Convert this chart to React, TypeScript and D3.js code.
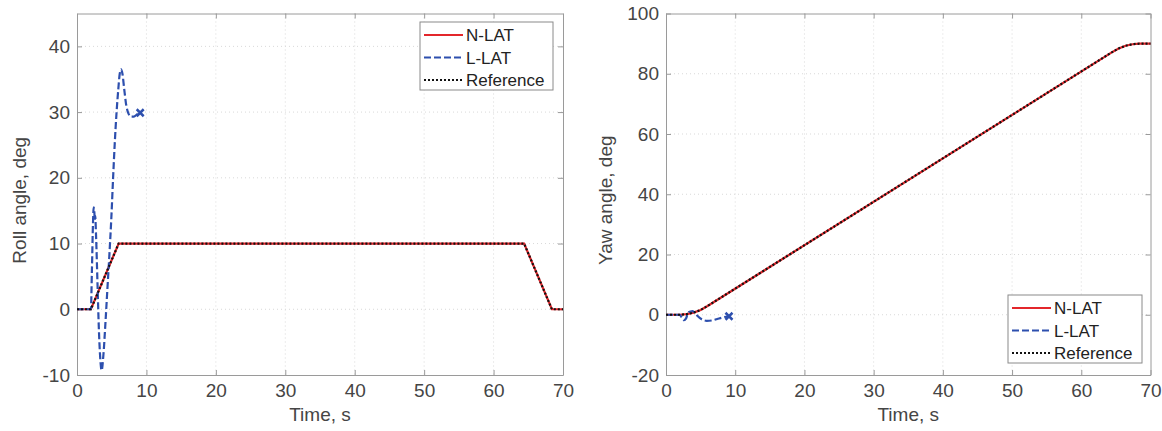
import * as d3 from 'd3'
import { useEffect, useRef } from 'react'

// roll angle, deg
const rollRefTime = [0, 2, 6, 64.4, 68.4, 70]
const rollRef = [0, 0, 10, 10, 0, 0]
const rollNlatTime = [0, 2, 6, 64.4, 68.4, 70]
const rollNlat = [0, 0, 10, 10, 0, 0]
const rollLlatTime = [0, 2.0, 2.15, 2.3, 2.4, 2.5, 2.55, 2.62, 2.75, 2.95, 3.15, 3.35, 3.55, 3.8, 4.1, 4.4, 4.65, 4.95, 5.2, 5.45, 5.7, 5.95, 6.15, 6.35, 6.55, 6.8, 7.1, 7.4, 7.8, 8.2, 8.6, 9.1]
const rollLlat = [0, 0, 6, 13, 15.5, 14.8, 13.5, 14.2, 11, 4, -3, -7.5, -9.3, -7, -2, 3.5, 8, 14, 20, 25.5, 30, 33.5, 35.8, 36.5, 35.8, 33.5, 31, 29.8, 29.3, 29.3, 29.6, 29.9]

// yaw angle, deg
const yawRefTime = [0, 2, 3, 4, 5, 6, 64.4, 65.4, 66.4, 67.4, 68.4, 70]
const yawRef = [0, 0, 0.2, 0.7, 1.6, 2.9, 87.1, 88.4, 89.3, 89.8, 90, 90]
const yawNlatTime = [0, 2, 3, 4, 5, 6, 64.4, 65.4, 66.4, 67.4, 68.4, 70]
const yawNlat = [0, 0, 0.2, 0.7, 1.6, 2.9, 87.1, 88.4, 89.3, 89.8, 90, 90]
const yawLlatTime = [0, 2.0, 2.3, 2.6, 2.9, 3.2, 3.55, 3.85, 4.2, 4.6, 5.15, 5.9, 6.6, 7.4, 8.2, 9.1]
const yawLlat = [0, 0, -1.0, -1.8, -1.2, 0.7, 1.1, 1.2, 0.6, -0.5, -1.5, -2.0, -1.9, -1.4, -0.9, -0.5]

const xTicks = [0, 10, 20, 30, 40, 50, 60, 70]
const rollTicks = [-10, 0, 10, 20, 30, 40]
const yawTicks = [-20, 0, 20, 40, 60, 80, 100]
const legendNames = ['N-LAT', 'L-LAT', 'Reference']

const FONT = '"Liberation Sans", Arial, Helvetica, sans-serif'
const RED = '#e3262b'
const BLUE = '#2d4fae'
const TEXT = '#454545'

type Pt = [number, number]
const zip = (t: number[], v: number[]): Pt[] => t.map((d, i) => [d, v[i]])

type PanelOpts = {
    left: number; right: number; top: number; bottom: number;
    yDomain: [number, number]; yTicks: number[]; yLabel: string; yLabelX: number;
    nlat: Pt[]; llat: Pt[]; ref: Pt[];
    legend: { x: number; y: number; w: number; h: number };
}

const drawPanel = (svg: d3.Selection<SVGSVGElement, unknown, null, undefined>, o: PanelOpts) => {
    const x = d3.scaleLinear().domain([0, 70]).range([o.left, o.right])
    const y = d3.scaleLinear().domain(o.yDomain).range([o.bottom, o.top])
    const g = svg.append('g')

    // grid
    g.selectAll('.gx').data(xTicks.slice(1, -1)).enter().append('line')
        .attr('x1', d => x(d)).attr('x2', d => x(d)).attr('y1', o.top).attr('y2', o.bottom)
        .attr('stroke', '#d9d9d9').attr('stroke-width', 1).attr('stroke-dasharray', '1,3')
    g.selectAll('.gy').data(o.yTicks.filter(d => d > o.yDomain[0] && d < o.yDomain[1])).enter().append('line')
        .attr('y1', d => y(d)).attr('y2', d => y(d)).attr('x1', o.left).attr('x2', o.right)
        .attr('stroke', '#d9d9d9').attr('stroke-width', 1).attr('stroke-dasharray', '1,3')

    // axes with inward ticks on all four sides
    const axisColor = '#9a9a9a'
    const tickSize = -5
    const fmt = (d: d3.NumberValue) => String(d)
    const styleAxis = (a: d3.Selection<SVGGElement, unknown, null, undefined>) => {
        a.select('.domain').attr('stroke', axisColor)
        a.selectAll('.tick line').attr('stroke', axisColor)
        a.selectAll('text').attr('fill', TEXT).attr('font-size', 19).attr('font-family', FONT)
    }
    const bottom = g.append('g').attr('transform', `translate(0,${o.bottom})`)
        .call(d3.axisBottom(x).tickValues(xTicks).tickSize(tickSize).tickPadding(9).tickSizeOuter(0).tickFormat(fmt))
    styleAxis(bottom)
    const leftAx = g.append('g').attr('transform', `translate(${o.left},0)`)
        .call(d3.axisLeft(y).tickValues(o.yTicks).tickSize(tickSize).tickPadding(7).tickSizeOuter(0).tickFormat(fmt))
    styleAxis(leftAx)
    const topAx = g.append('g').attr('transform', `translate(0,${o.top})`)
        .call(d3.axisTop(x).tickValues(xTicks).tickSize(tickSize).tickSizeOuter(0).tickFormat(() => ''))
    styleAxis(topAx)
    const rightAx = g.append('g').attr('transform', `translate(${o.right},0)`)
        .call(d3.axisRight(y).tickValues(o.yTicks).tickSize(tickSize).tickSizeOuter(0).tickFormat(() => ''))
    styleAxis(rightAx)

    g.append('text')
        .attr('x', (o.left + o.right) / 2).attr('y', 421)
        .attr('text-anchor', 'middle').attr('font-size', 19).attr('font-family', FONT).attr('fill', TEXT)
        .text('Time, s')
    g.append('text')
        .attr('transform', `translate(${o.yLabelX},${(o.top + o.bottom) / 2 + 6}) rotate(-90)`)
        .attr('text-anchor', 'middle').attr('font-size', 19).attr('font-family', FONT).attr('fill', TEXT)
        .text(o.yLabel)

    const line = d3.line<Pt>().x(d => x(d[0])).y(d => y(d[1]))
    const smooth = d3.line<Pt>().x(d => x(d[0])).y(d => y(d[1])).curve(d3.curveMonotoneX)

    g.append('path').datum(o.nlat).attr('d', line)
        .attr('fill', 'none').attr('stroke', RED).attr('stroke-width', 2.2)
    g.append('path').datum(o.llat).attr('d', smooth)
        .attr('fill', 'none').attr('stroke', BLUE).attr('stroke-width', 2.2).attr('stroke-dasharray', '7,3')
    g.append('path').datum(o.ref).attr('d', line)
        .attr('fill', 'none').attr('stroke', '#111').attr('stroke-width', 2.2).attr('stroke-dasharray', '2,2')

    // end marker of L-LAT
    const last = o.llat[o.llat.length - 1]
    const mx = x(last[0]), my = y(last[1]), s = 3.5
    g.append('path').attr('d', `M${mx - s},${my - s}L${mx + s},${my + s}M${mx - s},${my + s}L${mx + s},${my - s}`)
        .attr('stroke', BLUE).attr('stroke-width', 2.5)

    // legend
    const L = o.legend
    const lg = g.append('g').attr('transform', `translate(${L.x},${L.y})`)
    lg.append('rect').attr('width', L.w).attr('height', L.h)
        .attr('fill', '#fff').attr('stroke', '#8a8a8a').attr('stroke-width', 1)
    const styles = [
        { c: RED, dash: null },
        { c: BLUE, dash: '7,3' },
        { c: '#111', dash: '2,2' },
    ]
    legendNames.forEach((name, i) => {
        const ry = 13 + i * 22.5
        const ln = lg.append('line').attr('x1', 4).attr('x2', 43).attr('y1', ry).attr('y2', ry)
            .attr('stroke', styles[i].c).attr('stroke-width', 2)
        if (styles[i].dash) ln.attr('stroke-dasharray', styles[i].dash)
        lg.append('text').attr('x', 46).attr('y', ry + 6)
            .attr('font-size', 17).attr('font-family', FONT).attr('fill', '#222')
            .text(name)
    })
}

const App = () => {
    const ref = useRef<SVGSVGElement>(null)
    useEffect(() => {
        const svg = d3.select(ref.current as SVGSVGElement)
        svg.selectAll('*').remove()
        drawPanel(svg, {
            left: 77, right: 563, top: 13.5, bottom: 375,
            yDomain: [-10, 45], yTicks: rollTicks, yLabel: 'Roll angle, deg', yLabelX: 26,
            nlat: zip(rollNlatTime, rollNlat), llat: zip(rollLlatTime, rollLlat), ref: zip(rollRefTime, rollRef),
            legend: { x: 420, y: 22, w: 133, h: 68 },
        })
        drawPanel(svg, {
            left: 666, right: 1150.5, top: 13.5, bottom: 375,
            yDomain: [-20, 100], yTicks: yawTicks, yLabel: 'Yaw angle, deg', yLabelX: 612,
            nlat: zip(yawNlatTime, yawNlat), llat: zip(yawLlatTime, yawLlat), ref: zip(yawRefTime, yawRef),
            legend: { x: 1008, y: 295, w: 134, h: 68 },
        })
    }, [])
    return (
        <svg ref={ref} width={1162} height={431}
            style={{ position: 'absolute', left: 0, top: 0, background: '#fff' }} />
    )
}

export default App
